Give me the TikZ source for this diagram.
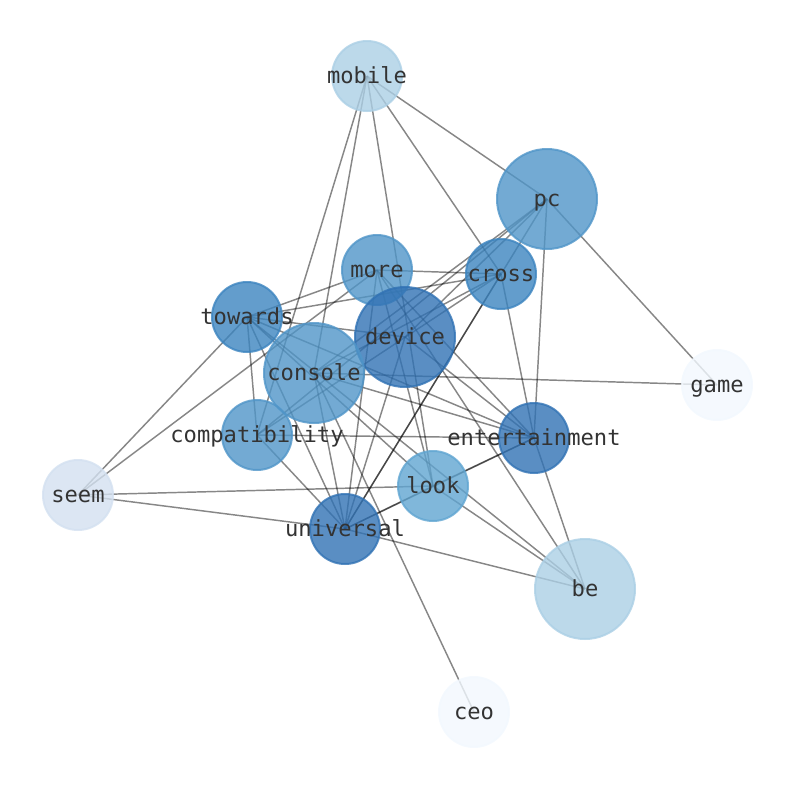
\documentclass[tikz,border=0pt]{standalone}
\usepackage{fontspec}
\setmonofont{DejaVu Sans Mono}
\pgfdeclarelayer{bg}
\pgfdeclarelayer{fg}
\pgfsetlayers{bg,main,fg}
\definecolor{cMob}{RGB}{171,207,229}
\definecolor{cPc}{RGB}{80,149,200}
\definecolor{cCross}{RGB}{60,132,191}
\definecolor{cDark}{RGB}{49,114,180}
\definecolor{cLook}{RGB}{96,165,209}
\definecolor{cSeem}{RGB}{211,224,240}
\definecolor{cPale}{RGB}{242,248,254}
\definecolor{cLbl}{RGB}{51,51,51}
\tikzset{
  vtx/.style={circle, inner sep=0pt, fill=#1, draw=#1, fill opacity=0.8, draw opacity=0.8, line width=1.5pt},
  bignode/.style={minimum size=75pt},
  smallnode/.style={minimum size=52.5pt},
  lbl/.style={font=\ttfamily\fontsize{16.6}{16.6}\selectfont, text=cLbl, inner sep=0pt, text height=13.5pt, text depth=2.5pt},
  edgeline/.style={draw=black, draw opacity=0.47, line width=1.1pt}
}
\begin{document}
\begin{tikzpicture}[x=0.75pt,y=-0.75pt]
\useasboundingbox (0,0) rectangle (794,790);
% vertices
\node[vtx=cMob,  smallnode] (mobile) at (367,76) {};
\node[vtx=cPc,   bignode]   (pc) at (547,199) {};
\node[vtx=cPc,   smallnode] (more) at (377,270) {};
\node[vtx=cCross,smallnode] (cross) at (501,274) {};
\node[vtx=cCross,smallnode] (towards) at (247,317) {};
\node[vtx=cDark, bignode]   (device) at (405,337) {};
\node[vtx=cPc,   bignode]   (console) at (314,373) {};
\node[vtx=cPale, smallnode] (game) at (717,385) {};
\node[vtx=cPc,   smallnode] (compatibility) at (257,435) {};
\node[vtx=cDark, smallnode] (entertainment) at (534,438) {};
\node[vtx=cSeem, smallnode] (seem) at (78,495) {};
\node[vtx=cLook, smallnode] (look) at (433,486) {};
\node[vtx=cDark, smallnode] (universal) at (345,529) {};
\node[vtx=cMob,  bignode]   (be) at (585,589) {};
\node[vtx=cPale, smallnode] (ceo) at (474,712) {};
% edges
\begin{pgfonlayer}{bg}
\foreach \a/\b in {mobile/pc, mobile/compatibility, mobile/console, mobile/look, mobile/cross,
  pc/game, pc/entertainment, pc/universal, pc/console, pc/compatibility, pc/device,
  cross/more, cross/towards, cross/entertainment, cross/universal, cross/console, cross/compatibility,
  more/towards, more/seem, more/universal, more/look, more/entertainment, more/be,
  towards/seem, towards/compatibility, towards/universal, towards/device, towards/entertainment, towards/look, towards/be,
  console/game, console/ceo, console/universal, console/entertainment,
  compatibility/universal, compatibility/entertainment,
  device/entertainment, device/universal,
  seem/look, seem/universal,
  look/entertainment, look/universal, entertainment/universal,
  look/be, universal/be, entertainment/be}
  \draw[edgeline] (\a.center) -- (\b.center);
\end{pgfonlayer}
% labels
\begin{pgfonlayer}{fg}
\foreach \n in {mobile, pc, more, cross, towards, device, console, game, compatibility, entertainment, seem, look, universal, be, ceo}
  \node[lbl] (\n-l) at (\n.center) {\n};
\end{pgfonlayer}
\end{tikzpicture}
\end{document}
